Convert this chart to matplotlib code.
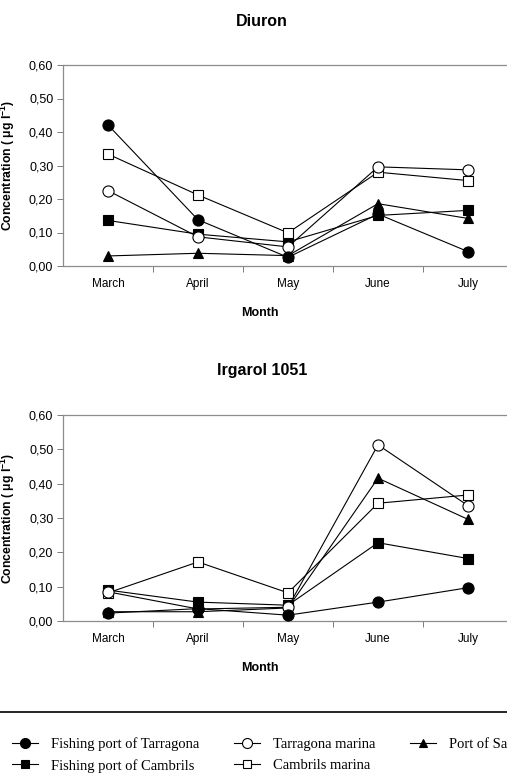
import matplotlib
matplotlib.use("Agg")
import matplotlib.pyplot as plt
from matplotlib.lines import Line2D
import numpy as np

plt.rcParams["font.family"] = ["Liberation Sans", "DejaVu Sans"]
plt.rcParams["mathtext.fontset"] = "custom"
plt.rcParams["mathtext.rm"] = "Liberation Sans:bold"
plt.rcParams["mathtext.it"] = "Liberation Sans:bold"
plt.rcParams["mathtext.bf"] = "Liberation Sans:bold"

months = ["March", "April", "May", "June", "July"]
yticks = [0.0, 0.1, 0.2, 0.3, 0.4, 0.5, 0.6]
ytick_labels = ["0,00", "0,10", "0,20", "0,30", "0,40", "0,50", "0,60"]

series = ["Fishing port of Tarragona", "Tarragona marina", "Port of Salou",
          "Fishing port of Cambrils", "Cambrils marina"]

# Diuron (ug/l)
diuron_fp_tarragona = [0.421, 0.138, 0.026, 0.155, 0.043]
diuron_tarragona_marina = [0.225, 0.087, 0.057, 0.296, 0.287]
diuron_salou = [0.030, 0.038, 0.031, 0.186, 0.142]
diuron_fp_cambrils = [0.136, 0.095, 0.072, 0.151, 0.166]
diuron_cambrils_marina = [0.334, 0.212, 0.099, 0.280, 0.255]

# Irgarol 1051 (ug/l)
irgarol_fp_tarragona = [0.023, 0.036, 0.017, 0.055, 0.097]
irgarol_tarragona_marina = [0.085, 0.035, 0.040, 0.513, 0.336]
irgarol_salou = [0.027, 0.027, 0.038, 0.416, 0.296]
irgarol_fp_cambrils = [0.090, 0.055, 0.046, 0.228, 0.182]
irgarol_cambrils_marina = [0.082, 0.172, 0.082, 0.343, 0.367]

styles = {
    "Fishing port of Tarragona": dict(marker="o", mfc="black", ms=8, z=6),
    "Tarragona marina": dict(marker="o", mfc="white", ms=8, z=5),
    "Port of Salou": dict(marker="^", mfc="black", ms=7, z=2),
    "Fishing port of Cambrils": dict(marker="s", mfc="black", ms=6.8, z=3),
    "Cambrils marina": dict(marker="s", mfc="white", ms=6.8, z=4),
}

W, H = 507, 781
fig = plt.figure(figsize=(W / 100, H / 100), dpi=100)
ax1 = fig.add_axes([63 / W, 1 - 266 / H, 450 / W, 201 / H])
ax2 = fig.add_axes([63 / W, 1 - 621 / H, 450 / W, 206 / H])

panels = [
    (ax1, "Diuron", [diuron_fp_tarragona, diuron_tarragona_marina, diuron_salou,
                     diuron_fp_cambrils, diuron_cambrils_marina], 201),
    (ax2, "Irgarol 1051", [irgarol_fp_tarragona, irgarol_tarragona_marina, irgarol_salou,
                           irgarol_fp_cambrils, irgarol_cambrils_marina], 206),
]

x = np.arange(len(months))
handles = {}
for ax, title, data, hpx in panels:
    for name, vals in zip(series, data):
        st = styles[name]
        ln, = ax.plot(x, vals, color="black", lw=0.8, marker=st["marker"],
                      ms=st["ms"], mfc=st["mfc"], mec="black", mew=0.8,
                      zorder=st["z"], clip_on=False)
        handles[name] = ln
    ax.set_xlim(-0.5, 4.5)
    ax.set_ylim(0, 0.6)
    ax.set_yticks(yticks)
    ax.set_yticklabels(ytick_labels)
    ax.set_xticks(x)
    ax.set_xticklabels(months)
    ax.set_xticks([0.5, 1.5, 2.5, 3.5], minor=True)
    ax.tick_params(axis="x", which="major", length=0, pad=15, labelsize=8.5)
    for lab in ax.get_xticklabels():
        lab.set_verticalalignment("baseline")
    ax.tick_params(axis="x", which="minor", length=4, width=0.6, color="0.4", direction="out")
    ax.tick_params(axis="y", length=4, width=0.6, color="0.4", pad=3, labelsize=9)
    for side in ["top", "left", "bottom"]:
        ax.spines[side].set_color("0.55")
        ax.spines[side].set_linewidth(0.9)
    ax.spines["right"].set_visible(False)
    ax.set_ylabel(r"Concentration ( $\mu$g l$^{-1}$)", fontsize=8.8, fontweight="bold")
    ax.yaxis.set_label_coords((17 - 63) / 450, 0.5)
    ax.set_xlabel("Month", fontsize=9, fontweight="bold")
    ax.xaxis.set_label_coords((260 - 63) / 450, -41 / hpx)
    ax.text((262 - 63) / 450, 1 + 44 / hpx, title, transform=ax.transAxes,
            ha="center", va="center", fontsize=11.5, fontweight="bold")

# separator line above the legend
fig.add_artist(Line2D([0, 1], [1 - 712 / H] * 2, transform=fig.transFigure,
                      color="black", lw=1.2))

order = ["Fishing port of Tarragona", "Fishing port of Cambrils",
         "Tarragona marina", "Cambrils marina", "Port of Salou"]
fig.legend([handles[n] for n in order], order, ncol=3, loc="upper left",
           bbox_to_anchor=(12 / W, 1 - 737 / H), frameon=False,
           prop={"family": "Liberation Serif", "size": 10.5},
           handlelength=1.8, handletextpad=0.85, columnspacing=2.4,
           labelspacing=0.55, borderpad=0, borderaxespad=0, markerscale=0.9)

fig.savefig("out.png", dpi=100)
